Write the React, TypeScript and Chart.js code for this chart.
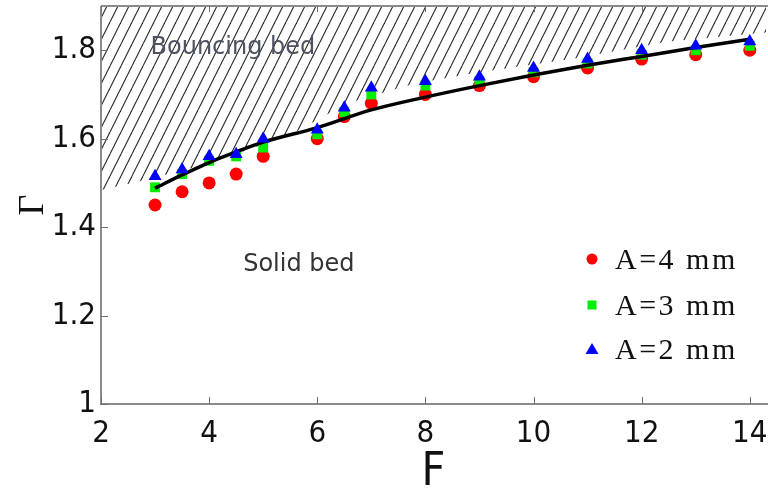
import React, { useEffect, useRef } from "react";
import { Chart, registerables } from "chart.js";

Chart.register(...registerables);

// ---- data ----
const xTicks = [2, 4, 6, 8, 10, 12, 14];
const yTicks = [1, 1.2, 1.4, 1.6, 1.8];

const F = [3, 3.5, 4, 4.5, 5, 6, 6.5, 7, 8, 9, 10, 11, 12, 13, 14];
const gammaA4 = [1.45, 1.48, 1.5, 1.52, 1.56, 1.6, 1.65, 1.68, 1.7, 1.72, 1.74, 1.76, 1.78, 1.79, 1.8];
const gammaA3 = [1.49, 1.52, 1.55, 1.56, 1.58, 1.61, 1.66, 1.7, 1.72, 1.73, 1.75, 1.77, 1.79, 1.8, 1.81];
const gammaA2 = [1.515, 1.53, 1.56, 1.565, 1.6, 1.62, 1.67, 1.715, 1.73, 1.74, 1.76, 1.78, 1.8, 1.81, 1.82];

const fitF = [3, 3.5, 4, 4.5, 5, 6, 7, 8, 9, 10, 11, 12, 13, 14];
const fitGamma = [1.488, 1.518, 1.546, 1.57, 1.592, 1.625, 1.665, 1.694, 1.72, 1.744, 1.766, 1.786, 1.806, 1.825];

const boundaryF = [2, 2.8, 3.75, 4.7, 5.6, 6.55, 7.8, 9, 10.7, 12.5, 14.3];
const boundaryGamma = [1.484, 1.506, 1.536, 1.574, 1.615, 1.68, 1.725, 1.75, 1.78, 1.82, 1.84];

const seriesLabels = ["A=4 mm", "A=3 mm", "A=2 mm"];
const regionLabels = [
  { text: "Bouncing bed", f: 4.44, g: 1.805, color: "#4d5361" },
  { text: "Solid bed", f: 5.66, g: 1.314, color: "#333333" },
];

const xRange = [2, 14.3];
const yRange = [1, 1.9];

const pts = (xs: number[], ys: number[]) => xs.map((x, i) => ({ x, y: ys[i] }));

const tickFamily = "'Liberation Sans Narrow', 'DejaVu Sans Condensed', sans-serif";

function makeHatch(): CanvasPattern | string {
  const w = 11;
  const h = 22;
  const c = document.createElement("canvas");
  c.width = w;
  c.height = h;
  const g = c.getContext("2d");
  if (!g) return "rgba(0,0,0,0.1)";
  g.strokeStyle = "#2a2a2a";
  g.lineWidth = 1.1;
  for (const dx of [-w, 0, w]) {
    g.beginPath();
    g.moveTo(dx, h);
    g.lineTo(dx + w, 0);
    g.stroke();
  }
  const p = g.createPattern(c, "repeat");
  return p || "rgba(0,0,0,0.1)";
}

const overlayPlugin = {
  id: "overlay",
  afterDatasetsDraw(chart: any) {
    const { ctx, chartArea, scales } = chart;
    const xs = scales.x;
    const ys = scales.y;
    ctx.save();
    // axes frame
    ctx.strokeStyle = "#8a8a8a";
    ctx.lineWidth = 2;
    ctx.beginPath();
    ctx.moveTo(chartArea.left, chartArea.top);
    ctx.lineTo(chartArea.right + 2, chartArea.top);
    ctx.moveTo(chartArea.left, chartArea.top);
    ctx.lineTo(chartArea.left, chartArea.bottom);
    ctx.lineTo(chartArea.right + 2, chartArea.bottom);
    ctx.stroke();
    // inward ticks
    ctx.lineWidth = 1;
    ctx.strokeStyle = "#707070";
    ctx.beginPath();
    xTicks.forEach((v) => {
      const px = Math.round(xs.getPixelForValue(v)) + 0.5;
      ctx.moveTo(px, chartArea.bottom);
      ctx.lineTo(px, chartArea.bottom - 7);
      ctx.moveTo(px, chartArea.top);
      ctx.lineTo(px, chartArea.top + 6);
    });
    yTicks.forEach((v) => {
      const py = Math.round(ys.getPixelForValue(v)) + 0.5;
      ctx.moveTo(chartArea.left, py);
      ctx.lineTo(chartArea.left + 7, py);
    });
    ctx.stroke();

    // x tick labels
    ctx.fillStyle = "#111111";
    ctx.font = "31px " + tickFamily;
    ctx.textAlign = "center";
    ctx.textBaseline = "alphabetic";
    xTicks.forEach((v) => {
      ctx.fillText(String(v), xs.getPixelForValue(v), chartArea.bottom + 38);
    });

    // region labels
    ctx.font = "24px 'DejaVu Sans', sans-serif";
    ctx.textAlign = "center";
    ctx.textBaseline = "middle";
    regionLabels.forEach((r) => {
      ctx.fillStyle = r.color;
      ctx.fillText(r.text, xs.getPixelForValue(r.f), ys.getPixelForValue(r.g));
    });

    // legend
    const lx = chartArea.right - 174;
    const rows = [chartArea.top + 253, chartArea.top + 299, chartArea.top + 343];
    const styles = [
      { color: "#ff0000", shape: "circle" },
      { color: "#00ee00", shape: "rect" },
      { color: "#0000ff", shape: "triangle" },
    ];
    styles.forEach((s, i) => {
      const y = rows[i];
      ctx.fillStyle = s.color;
      ctx.beginPath();
      if (s.shape === "circle") {
        ctx.arc(lx, y, 5.5, 0, Math.PI * 2);
      } else if (s.shape === "rect") {
        ctx.rect(lx - 4.5, y - 4.5, 9, 9);
      } else {
        ctx.moveTo(lx, y - 6);
        ctx.lineTo(lx + 6.5, y + 5);
        ctx.lineTo(lx - 6.5, y + 5);
        ctx.closePath();
      }
      ctx.fill();
      ctx.fillStyle = "#111111";
      ctx.font = "30px 'Liberation Serif', 'Times New Roman', serif";
      try {
        (ctx as any).letterSpacing = "2.5px";
      } catch (e) {}
      ctx.textAlign = "left";
      ctx.textBaseline = "middle";
      ctx.fillText(seriesLabels[i], lx + 23, y + 2);
      try {
        (ctx as any).letterSpacing = "0px";
      } catch (e) {}
    });
    ctx.restore();
  },
};

export default function App() {
  const ref = useRef<HTMLCanvasElement | null>(null);
  useEffect(() => {
    if (!ref.current) return;
    const hatch = makeHatch();
    const chart = new Chart(ref.current, {
      type: "scatter",
      data: {
        datasets: [
          {
            label: seriesLabels[2],
            data: pts(F, gammaA2),
            pointStyle: "triangle",
            pointRadius: 7.5,
            backgroundColor: "#0000ff",
            borderWidth: 0,
            borderColor: "#0000ff",
          },
          {
            label: "fit",
            data: pts(fitF, fitGamma),
            showLine: true,
            borderColor: "#000000",
            borderWidth: 3.5,
            pointRadius: 0,
            cubicInterpolationMode: "monotone",
          },
          {
            label: seriesLabels[1],
            data: pts(F, gammaA3),
            pointStyle: "rect",
            pointRadius: 7,
            backgroundColor: "#00ee00",
            borderWidth: 0,
            borderColor: "#00ee00",
          },
          {
            label: seriesLabels[0],
            data: pts(F, gammaA4),
            pointStyle: "circle",
            pointRadius: 6.5,
            backgroundColor: "#ff0000",
            borderWidth: 0,
            borderColor: "#ff0000",
          },
          {
            label: "hatch",
            data: pts(boundaryF, boundaryGamma),
            showLine: true,
            borderWidth: 0,
            borderColor: "rgba(0,0,0,0)",
            pointRadius: 0,
            fill: "end",
            backgroundColor: hatch as any,
          },
        ] as any,
      },
      options: {
        animation: false,
        responsive: false,
        maintainAspectRatio: false,
        layout: { autoPadding: false, padding: { top: 6, right: 2, left: 0, bottom: 0 } },
        plugins: { legend: { display: false }, tooltip: { enabled: false } },
        scales: {
          x: {
            type: "linear",
            min: xRange[0],
            max: xRange[1],
            afterFit: (s: any) => {
              s.height = 88;
              s.paddingLeft = 0;
              s.paddingRight = 0;
            },
            afterBuildTicks: (s: any) => {
              s.ticks = xTicks.map((v) => ({ value: v }));
            },
            grid: { display: false, drawTicks: false },
            border: { display: false },
            ticks: { display: false },
            title: {
              display: true,
              text: "F",
              color: "#111111",
              padding: 0,
              font: { family: tickFamily, size: 46, lineHeight: 0.83 },
            },
          },
          y: {
            type: "linear",
            min: yRange[0],
            max: yRange[1],
            afterFit: (s: any) => {
              s.width = 101;
              s.paddingTop = 0;
              s.paddingBottom = 0;
            },
            afterBuildTicks: (s: any) => {
              s.ticks = yTicks.map((v) => ({ value: v }));
            },
            grid: { display: false, drawTicks: false },
            border: { display: false },
            ticks: {
              padding: 5,
              color: "#111111",
              font: { family: tickFamily, size: 31 },
              callback: (v: any) => String(Math.round(v * 10) / 10),
            },
            title: {
              display: true,
              text: "Γ",
              color: "#111111",
              padding: { top: 16, bottom: 0 },
              font: { family: "'Liberation Serif', serif", size: 36, lineHeight: 1 },
            },
          },
        },
      },
      plugins: [overlayPlugin],
    });
    return () => chart.destroy();
  }, []);

  return (
    <div style={{ position: "absolute", left: 0, top: 0, width: 768, height: 492, background: "#ffffff" }}>
      <canvas ref={ref} width={768} height={492} style={{ display: "block" }} />
    </div>
  );
}
